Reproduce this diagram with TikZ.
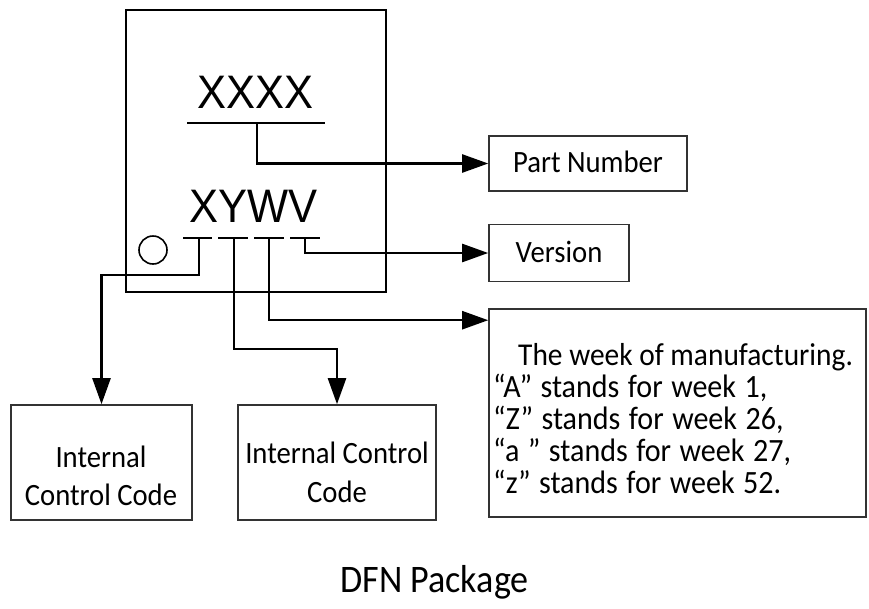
\documentclass[tikz,border=0pt]{standalone}
\usepackage{fontspec}
\setmainfont[FakeStretch=0.925]{Carlito}
\newfontfamily\widefont[FakeStretch=0.925,WordSpace=1.25]{Carlito}
\newfontfamily\markfont[FakeStretch=0.925]{Liberation Sans}
\usetikzlibrary{arrows.meta}
\begin{document}
\begin{tikzpicture}[x=1pt,y=-1pt,
  pkgbox/.style={draw=black,line width=2pt,inner sep=0pt},
  infobox/.style={draw=black!80,line width=1.6pt,inner sep=0pt},
  lead/.style={line width=2.4pt,line join=miter},
  leadarrow/.style={lead,-{Triangle[length=26pt,width=18pt]}},
  txt/.style={font=\fontsize{31}{38}\selectfont,inner sep=0pt,anchor=base},
  weektxt/.style={font=\fontsize{31.8}{32}\selectfont,inner sep=0pt,anchor=base west},
  weekwide/.style={weektxt,font=\widefont\fontsize{32.5}{32}\selectfont},
  marking/.style={font=\markfont\fontsize{47}{47}\selectfont,inner sep=0pt,anchor=base}
]
\useasboundingbox (0,0) rectangle (869,608);

% package outline with marking
\node[pkgbox,minimum width=260pt,minimum height=282pt] (pkg) at (256,151) {};
\node[marking] (pn-mark) at (255,108) {XXXX};
\node[marking] (ver-mark) at (253.5,222) {XYWV};
\node[draw,line width=1.6pt,circle,minimum size=28pt,inner sep=0pt] (pin1) at (153,250) {};

% description boxes
\node[infobox,minimum width=198pt,minimum height=55pt] (pn) at (588,163.5) {};
\node[txt] (pn-t) at (588,172) {Part Number};
\node[infobox,minimum width=140pt,minimum height=57pt] (ver) at (559,253) {};
\node[txt] (ver-t) at (559,262) {Version};
\node[infobox,minimum width=377pt,minimum height=208pt] (wk) at (677.5,413) {};
\node[weektxt] (wk1) at (518,365) {The week of manufacturing.};
\node[weekwide] (wk2) at (493,397) {“A” stands for week 1,};
\node[weekwide] (wk3) at (493,429) {“Z” stands for week 26,};
\node[weekwide] (wk4) at (493,461) {“a ” stands for week 27,};
\node[weekwide] (wk5) at (493,493) {“z” stands for week 52.};
\node[infobox,minimum width=181pt,minimum height=115pt] (icc1) at (101.5,462.5) {};
\node[txt] (icc1a) at (101,467) {Internal};
\node[txt] (icc1b) at (101,505) {Control Code};
\node[infobox,minimum width=198pt,minimum height=115pt] (icc2) at (337,462.5) {};
\node[txt] (icc2a) at (337,463) {Internal Control};
\node[txt] (icc2b) at (337,502) {Code};

\node[font=\fontsize{39}{44}\selectfont,inner sep=0pt,anchor=base] (title) at (434.5,592) {DFN Package};

% underline of the part number and its lead
\coordinate (pnL) at (187,123);
\coordinate (pnR) at (325,123);
\coordinate (pnS) at (257,123);
\draw[lead] (pnL) -- (pnR);
\draw[leadarrow] (pnS) |- (pn.west);

% underline segments of the code line
\coordinate (d1a) at (183,238); \coordinate (d1b) at (212,238);
\coordinate (d2a) at (218,238); \coordinate (d2b) at (248,238);
\coordinate (d3a) at (254,238); \coordinate (d3b) at (284,238);
\coordinate (d4a) at (290,238); \coordinate (d4b) at (320,238);
\foreach \s in {1,2,3,4} \draw[lead] (d\s a) -- (d\s b);

\coordinate (s1) at (199,238);
\coordinate (s2) at (234,238);
\coordinate (s3) at (269,238);
\coordinate (s4) at (305,238);

\draw[leadarrow] (s1) -- ++(0,37) -| (icc1.north);
\draw[leadarrow] (s2) -- ++(0,111) -| (icc2.north);
\draw[leadarrow] (s3) |- ([yshift=-12pt]wk.north west);
\draw[leadarrow] (s4) |- (ver.west);
\end{tikzpicture}
\end{document}
